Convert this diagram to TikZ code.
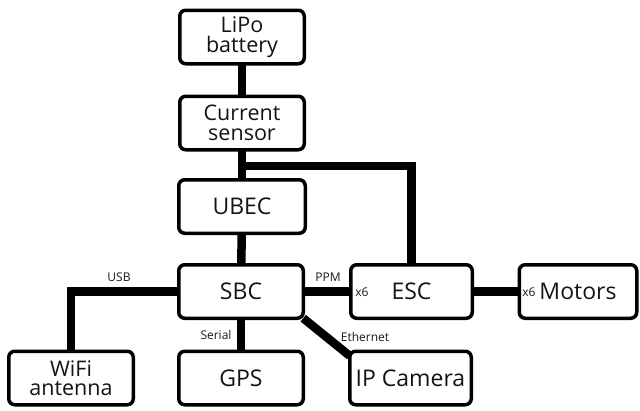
\documentclass[tikz,border=0pt]{standalone}
\usepackage{fontspec}
\setmainfont{Open Sans}
\usetikzlibrary{backgrounds}

\tikzset{
  block/.style={draw=black, fill=white, line width=3.5pt, rounded corners=6pt,
    inner sep=0pt, outer sep=0pt, minimum width=124.5pt, minimum height=53.5pt,
    align=center, text=black!92},
  big/.style={font=\fontsize{23}{19}\selectfont},
  twoline/.style={font=\fontsize{21.5}{19.5}\selectfont},
  wire/.style={line width=8.5pt, line join=miter, black},
  tag/.style={font=\fontsize{12}{14}\selectfont, inner sep=0pt, text=black!90},
}

\begin{document}
\begin{tikzpicture}[x=1pt, y=-1pt]
  \useasboundingbox (0,0) rectangle (640,410);

  % blocks
  \node[block, twoline] (lipo)    at (242,37)    {LiPo\\battery};
  \node[block, twoline] (current) at (242,123)   {Current\\sensor};
  \node[block, big, minimum width=126.5pt] (ubec) at (242,206.5) {UBEC};
  \node[block, big]     (sbc)     at (241,291.5) {SBC};
  \node[block, big]     (gps)     at (241,378)   {GPS};
  \node[block, twoline] (wifi)    at (71,378)    {WiFi\\antenna};
  \node[block, big, minimum width=121.5pt] (esc)    at (411.5,291.5) {ESC};
  \node[block, big, minimum width=117.5pt] (motors) at (578,291.5)   {Motors};
  \node[block, big, minimum width=121.5pt] (ipcam)  at (410.5,378)   {IP Camera};

  % multiplicity marks inside the blocks
  \node[tag] (escx)   at (362,292) {x6};
  \node[tag] (motorx) at (529,292) {x6};

  % link labels
  \node[tag] (usb)      at (119,277) {USB};
  \node[tag] (ppm)      at (328,277) {PPM};
  \node[tag] (serial)   at (216,335) {Serial};
  \node[tag] (ethernet) at (365,337) {Ethernet};

  % branch point of the power line feeding the ESC
  \coordinate (tap) at (242,166);

  % white page and connectors, drawn behind the blocks
  \begin{pgfonlayer}{background}
    \fill[white] (0,0) rectangle (640,410);
    \draw[wire] (lipo) -- (current);
    \draw[wire] (current) -- (ubec);
    \draw[wire] (tap) -| (esc);
    \draw[wire] (ubec) -- (sbc);
    \draw[wire] (sbc) -- (gps);
    \draw[wire] (sbc.west) -| (wifi.north);
    \draw[wire] (sbc) -- (esc);
    \draw[wire] (esc) -- (motors);
    \draw[wire] (sbc.south east) -- (ipcam.160);
  \end{pgfonlayer}
\end{tikzpicture}
\end{document}
